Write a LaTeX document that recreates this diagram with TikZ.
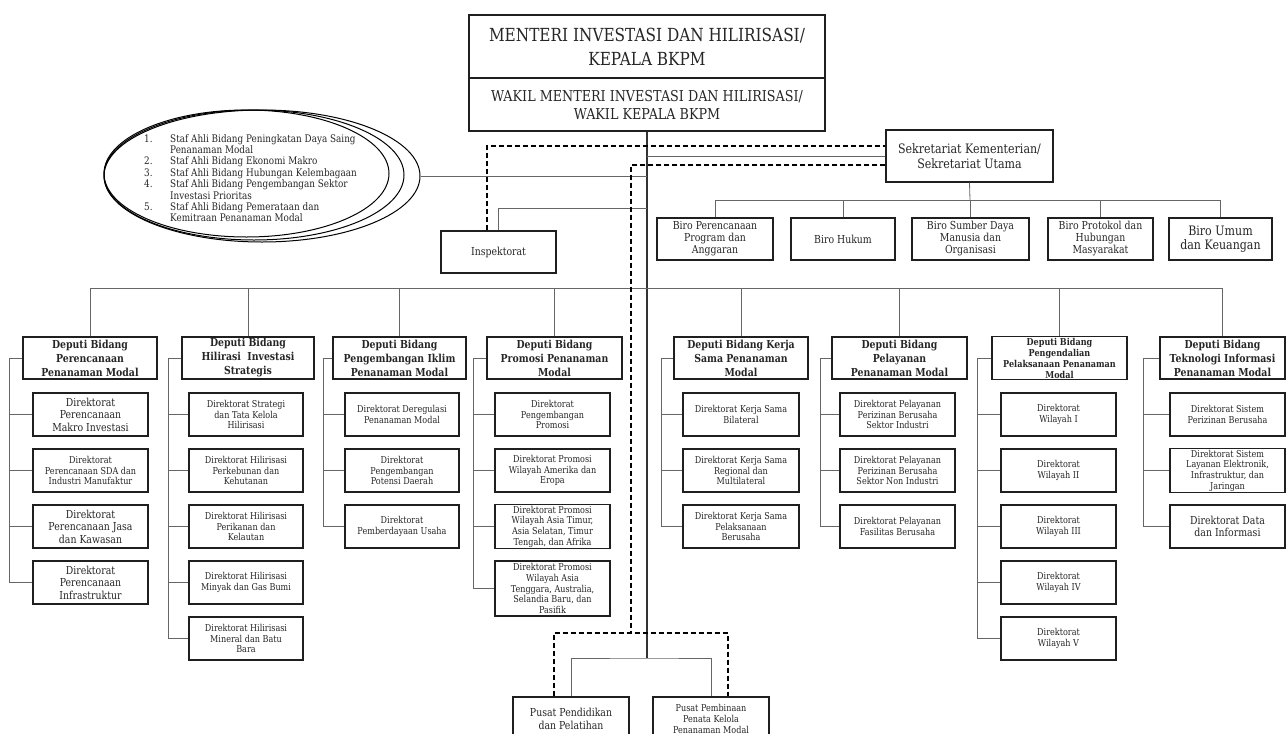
\documentclass[tikz,border=0pt]{standalone}
\usepackage{fontspec}
\setmainfont{DejaVu Serif}[FakeStretch=0.85]
\usetikzlibrary{shapes.geometric}
\newcommand\fs[2]{\fontsize{#1}{#2}\selectfont}
\newcommand\bx[7]{%
  \pgfmathsetmacro\bxw{#4-#2}%
  \pgfmathsetmacro\bxh{#5-#3}%
  \pgfmathsetmacro\bxx{(#2+#4)/2}%
  \pgfmathsetmacro\bxy{(#3+#5)/2}%
  \node[box,#6,minimum width=\bxw pt,minimum height=\bxh pt] (#1) at (\bxx,\bxy) {#7};}
\newcommand\brk[4]{%
  \draw[conn] (#1.west) -- (#2,0 |- #1.west) |- (#4.west);
  \foreach \n in {#3} \draw[conn] (\n.west) -- (\n.west -| #2,0);}
\begin{document}
\begin{tikzpicture}[x=1pt,y=-1pt,
  box/.style={draw=black!88,line width=1.2pt,fill=white,inner sep=1pt,align=center,text=black!85},
  conn/.style={draw=black!60,line width=0.8pt},
  spine/.style={draw=black!80,line width=1.3pt},
  dsh/.style={draw=black,line width=1.2pt,dash pattern=on 5pt off 3pt},
  dirsm/.style={font=\fs{9.5}{10.7}},
  dirbig/.style={font=\fs{11}{12.5}},
  depst/.style={font=\bfseries\fs{11}{14}},
  birost/.style={font=\fs{11}{12}}]
\useasboundingbox (0,0) rectangle (1286,734);

% top
\bx{menteri}{469}{15}{825}{78}{font=\fs{18}{24}}{MENTERI INVESTASI DAN HILIRISASI/\\KEPALA BKPM}
\bx{wakil}{469}{78}{825}{131}{font=\fs{15}{18}}{WAKIL MENTERI INVESTASI DAN HILIRISASI/\\WAKIL KEPALA BKPM}

% staf ahli ellipses
\draw[black,line width=1pt] (246.5,173.5) ellipse [x radius=142.5, y radius=63.5];
\draw[black,line width=1pt] (254,175) ellipse [x radius=150, y radius=65];
\node[ellipse,draw=black,line width=1pt,minimum width=316pt,minimum height=132pt,inner sep=0pt] (staf) at (262,176) {};
\node[anchor=north west,inner sep=0pt,font=\fs{10.4}{11.4},text=black!85] (staftxt) at (144,134) {%
\begin{tabular}{@{}p{26pt}@{}l@{}}
1. & Staf Ahli Bidang Peningkatan Daya Saing\\
   & Penanaman Modal\\
2. & Staf Ahli Bidang Ekonomi Makro\\
3. & Staf Ahli Bidang Hubungan Kelembagaan\\
4. & Staf Ahli Bidang Pengembangan Sektor\\
   & Investasi Prioritas\\
5. & Staf Ahli Bidang Pemerataan dan\\
   & Kemitraan Penanaman Modal
\end{tabular}};

% sekretariat, inspektorat, biro
\bx{sek}{886}{130}{1053}{182}{font=\fs{13}{15}}{Sekretariat Kementerian/\\Sekretariat Utama}
\bx{insp}{441}{231}{556}{273}{font=\fs{11}{12}}{Inspektorat}
\bx{b1}{657}{218}{773}{260}{birost}{Biro Perencanaan\\Program dan\\Anggaran}
\bx{b2}{791}{218}{895}{260}{birost}{Biro Hukum}
\bx{b3}{912}{218}{1029}{260}{birost}{Biro Sumber Daya\\Manusia dan\\Organisasi}
\bx{b4}{1048}{218}{1153}{260}{birost}{Biro Protokol dan\\Hubungan\\Masyarakat}
\bx{b5}{1169}{218}{1272}{260}{font=\fs{13}{14.3}}{Biro Umum\\dan Keuangan}

% deputies
\bx{dep1}{23}{337}{157}{379}{depst}{Deputi Bidang\\Perencanaan\\Penanaman Modal}
\bx{dep2}{182}{337}{314}{379}{depst}{Deputi Bidang\\Hilirasi\ \ Investasi\\Strategis}
\bx{dep3}{333}{337}{466}{379}{depst}{Deputi Bidang\\Pengembangan Iklim\\Penanaman Modal}
\bx{dep4}{487}{337}{622}{379}{depst}{Deputi Bidang\\Promosi Penanaman\\Modal}
\bx{dep5}{674}{337}{808}{379}{depst}{Deputi Bidang Kerja\\Sama Penanaman\\Modal}
\bx{dep6}{832}{337}{967}{379}{depst}{Deputi Bidang\\Pelayanan\\Penanaman Modal}
\bx{dep7}{992}{337}{1127}{379}{font=\bfseries\fs{9.5}{11}}{Deputi Bidang\\Pengendalian\\Pelaksanaan Penanaman\\Modal}
\bx{dep8}{1160}{337}{1285}{379}{depst}{Deputi Bidang\\Teknologi Informasi\\Penanaman Modal}

% column 1
\bx{d1a}{33}{393}{148}{436}{dirbig}{Direktorat\\Perencanaan\\Makro Investasi}
\bx{d1b}{33}{449}{148}{492}{dirsm}{Direktorat\\Perencanaan SDA dan\\Industri Manufaktur}
\bx{d1c}{33}{505}{148}{548}{dirbig}{Direktorat\\Perencanaan Jasa\\dan Kawasan}
\bx{d1d}{33}{561}{148}{604}{dirbig}{Direktorat\\Perencanaan\\Infrastruktur}
% column 2
\bx{d2a}{189}{393}{303}{436}{dirsm}{Direktorat Strategi\\dan Tata Kelola\\Hilirisasi}
\bx{d2b}{189}{449}{303}{492}{dirsm}{Direktorat Hilirisasi\\Perkebunan dan\\Kehutanan}
\bx{d2c}{189}{505}{303}{548}{dirsm}{Direktorat Hilirisasi\\Perikanan dan\\Kelautan}
\bx{d2d}{189}{561}{303}{604}{dirsm}{Direktorat Hilirisasi\\Minyak dan Gas Bumi}
\bx{d2e}{189}{617}{303}{660}{dirsm}{Direktorat Hilirisasi\\Mineral dan Batu\\Bara}
% column 3
\bx{d3a}{345}{393}{459}{436}{dirsm}{Direktorat Deregulasi\\Penanaman Modal}
\bx{d3b}{345}{449}{459}{492}{dirsm}{Direktorat\\Pengembangan\\Potensi Daerah}
\bx{d3c}{345}{505}{459}{548}{dirsm}{Direktorat\\Pemberdayaan Usaha}
% column 4
\bx{d4a}{495}{393}{610}{436}{dirsm}{Direktorat\\Pengembangan\\Promosi}
\bx{d4b}{495}{449}{610}{492}{dirsm}{Direktorat Promosi\\Wilayah Amerika dan\\Eropa}
\bx{d4c}{495}{505}{610}{548}{dirsm}{Direktorat Promosi\\Wilayah Asia Timur,\\Asia Selatan, Timur\\Tengah, dan Afrika}
\bx{d4d}{495}{561}{610}{616}{dirsm}{Direktorat Promosi\\Wilayah Asia\\Tenggara, Australia,\\Selandia Baru, dan\\Pasifik}
% column 5
\bx{d5a}{683}{393}{799}{436}{dirsm}{Direktorat Kerja Sama\\Bilateral}
\bx{d5b}{683}{449}{799}{492}{dirsm}{Direktorat Kerja Sama\\Regional dan\\Multilateral}
\bx{d5c}{683}{505}{799}{548}{dirsm}{Direktorat Kerja Sama\\Pelaksanaan\\Berusaha}
% column 6
\bx{d6a}{840}{393}{955}{436}{dirsm}{Direktorat Pelayanan\\Perizinan Berusaha\\Sektor Industri}
\bx{d6b}{840}{449}{955}{492}{dirsm}{Direktorat Pelayanan\\Perizinan Berusaha\\Sektor Non Industri}
\bx{d6c}{840}{505}{955}{548}{dirsm}{Direktorat Pelayanan\\Fasilitas Berusaha}
% column 7
\bx{d7a}{1001}{393}{1116}{436}{dirsm}{Direktorat\\Wilayah I}
\bx{d7b}{1001}{449}{1116}{492}{dirsm}{Direktorat\\Wilayah II}
\bx{d7c}{1001}{505}{1116}{548}{dirsm}{Direktorat\\Wilayah III}
\bx{d7d}{1001}{561}{1116}{604}{dirsm}{Direktorat\\Wilayah IV}
\bx{d7e}{1001}{617}{1116}{660}{dirsm}{Direktorat\\Wilayah V}
% column 8
\bx{d8a}{1170}{393}{1285}{436}{dirsm}{Direktorat Sistem\\Perizinan Berusaha}
\bx{d8b}{1170}{449}{1285}{492}{dirsm}{Direktorat Sistem\\Layanan Elektronik,\\Infrastruktur, dan\\Jaringan}
\bx{d8c}{1170}{505}{1285}{548}{dirbig}{Direktorat Data\\dan Informasi}

% pusat
\bx{pp1}{513}{697}{629}{741}{dirbig}{Pusat Pendidikan\\dan Pelatihan}
\bx{pp2}{653}{697}{769}{741}{dirsm}{Pusat Pembinaan\\Penata Kelola\\Penanaman Modal}

% coordinates
\coordinate (pbus) at (647,658);
\coordinate (dbus) at (647,288);
\coordinate (bbus) at (970,200);
\coordinate (ijoin) at (647,208);

% spine and main connectors
\draw[spine] (wakil.south) -- (pbus);
\draw[conn] (staf.east) -- (staf.east -| wakil.south);
\draw[conn] (insp.north) |- (ijoin);
\draw[conn] (sek.west |- 0,156) -- (wakil.south |- 0,156);
\draw[conn] (sek.south) -- (bbus);
\foreach \n in {b1,b2,b3,b4,b5} \draw[conn] (\n.north) |- (bbus);
\foreach \n in {dep1,dep2,dep3,dep4,dep5,dep6,dep7,dep8} \draw[conn] (\n.north) |- (dbus);
\draw[conn] (pp1.north) |- (pbus) -| (pp2.north);

% brackets
\brk{dep1}{9}{d1a,d1b,d1c}{d1d}
\brk{dep2}{168}{d2a,d2b,d2c,d2d}{d2e}
\brk{dep3}{323}{d3a,d3b}{d3c}
\brk{dep4}{473}{d4a,d4b,d4c}{d4d}
\brk{dep5}{661}{d5a,d5b}{d5c}
\brk{dep6}{820}{d6a,d6b}{d6c}
\brk{dep7}{977}{d7a,d7b,d7c,d7d}{d7e}
\brk{dep8}{1143}{d8a,d8b}{d8c}

% dashed lines
\coordinate (ia) at ([xshift=-11.5pt]insp.north);
\draw[dsh] (ia) |- (sek.west |- 0,146);
\draw[dsh] (sek.west |- 0,165) -| (631,633);
\coordinate (q1) at ([xshift=-17pt]pp1.north);
\coordinate (q2) at ([xshift=17pt]pp2.north);
\draw[dsh] (q1) -- (q1 |- 0,633) -- (q2 |- 0,633) -- (q2);
\end{tikzpicture}
\end{document}
